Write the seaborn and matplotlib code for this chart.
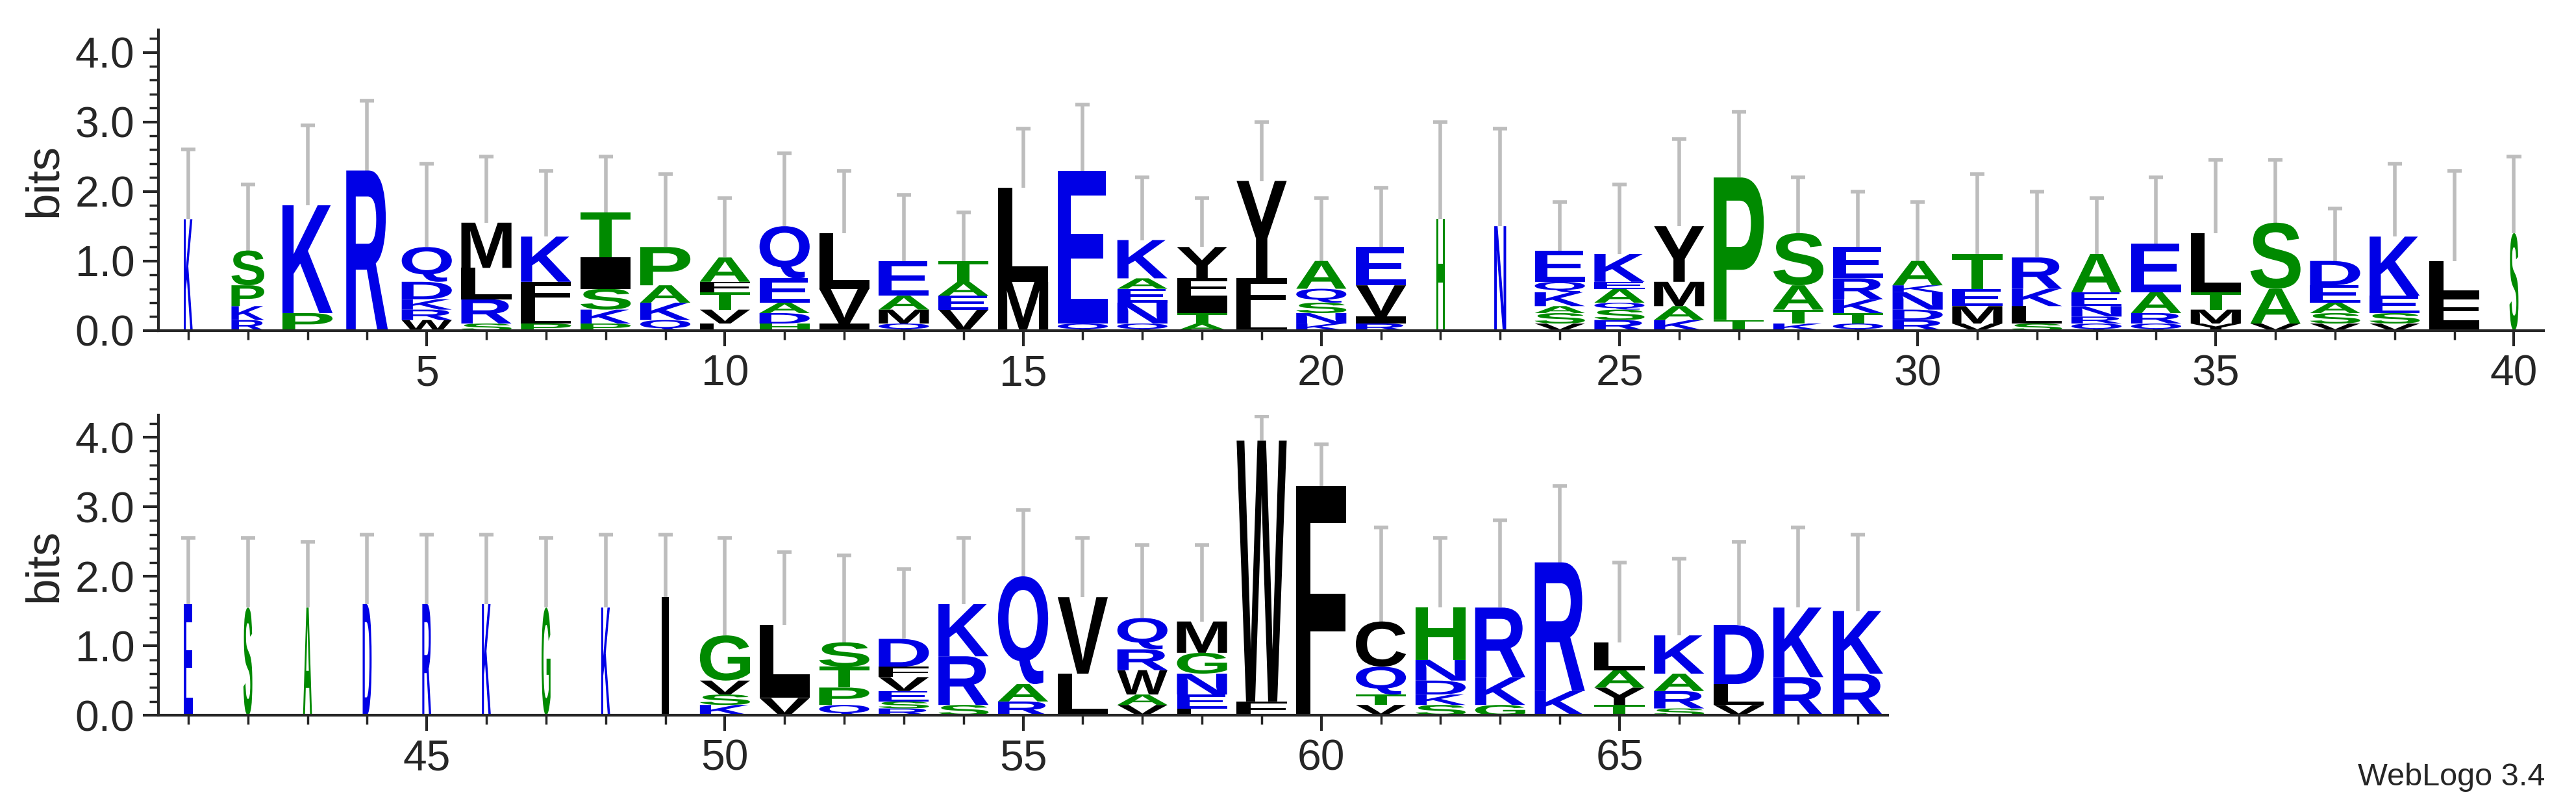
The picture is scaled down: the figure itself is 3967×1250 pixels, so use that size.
import matplotlib
matplotlib.use("Agg")
import matplotlib.pyplot as plt
import seaborn as sns
from matplotlib.textpath import TextPath
from matplotlib.patches import PathPatch
from matplotlib.font_manager import FontProperties
from matplotlib.transforms import Affine2D

# per-position stacks, bottom -> top: (letter, bits)
stacks = {
1:[("K",1.6)],2:[("R",0.15),("K",0.2),("P",0.3),("S",0.5)],3:[("P",0.25),("K",1.55)],
4:[("R",2.3)],5:[("W",0.15),("R",0.15),("K",0.15),("D",0.25),("Q",0.5)],
6:[("S",0.1),("R",0.35),("L",0.45),("M",0.65)],7:[("P",0.1),("L",0.25),("F",0.35),("K",0.65)],
8:[("P",0.1),("K",0.2),("S",0.3),("I",0.45),("T",0.65)],9:[("Q",0.15),("K",0.25),("A",0.25),("P",0.55)],
10:[("L",0.1),("V",0.2),("T",0.25),("F",0.15),("A",0.35)],11:[("H",0.1),("D",0.15),("A",0.15),("E",0.35),("Q",0.75)],
12:[("I",0.1),("V",0.5),("L",0.8)],13:[("Q",0.1),("M",0.2),("A",0.2),("E",0.5)],
14:[("V",0.3),("E",0.2),("A",0.2),("T",0.3)],15:[("M",0.7),("L",1.35)],16:[("Q",0.1),("E",2.2)],
17:[("Q",0.1),("N",0.3),("E",0.2),("A",0.15),("K",0.55)],18:[("A",0.1),("T",0.15),("I",0.25),("F",0.25),("Y",0.45)],
19:[("L",0.25),("F",0.5),("Y",1.4)],20:[("K",0.1),("N",0.15),("S",0.15),("Q",0.2),("A",0.4)],
21:[("R",0.1),("I",0.1),("V",0.45),("E",0.55)],22:[("H",1.6)],23:[("N",1.5)],
24:[("V",0.1),("S",0.15),("A",0.1),("K",0.2),("Q",0.15),("E",0.45)],25:[("R",0.15),("S",0.15),("Q",0.1),("A",0.2),("E",0.1),("K",0.4)],
26:[("K",0.15),("A",0.2),("M",0.35),("Y",0.8)],27:[("T",0.15),("P",2.05)],
28:[("K",0.1),("T",0.2),("A",0.35),("S",0.75)],29:[("Q",0.1),("T",0.15),("K",0.2),("R",0.3),("E",0.45)],
30:[("R",0.15),("D",0.15),("N",0.25),("K",0.1),("A",0.35)],31:[("V",0.1),("M",0.25),("E",0.25),("T",0.5)],
32:[("S",0.1),("L",0.25),("K",0.25),("R",0.45)],33:[("Q",0.1),("R",0.1),("N",0.15),("E",0.2),("A",0.55)],
34:[("Q",0.1),("R",0.15),("A",0.3),("E",0.7)],35:[("Y",0.1),("M",0.2),("T",0.25),("L",0.85)],
36:[("V",0.1),("A",0.5),("S",0.95)],37:[("V",0.1),("S",0.15),("A",0.15),("E",0.25),("D",0.35)],
38:[("V",0.1),("S",0.15),("E",0.25),("K",0.85)],39:[("I",0.15),("F",0.35),("L",0.5)],40:[("S",1.4)],
41:[("E",1.6)],42:[("S",1.55)],43:[("A",1.55)],44:[("D",1.6)],45:[("R",1.6)],46:[("K",1.6)],
47:[("G",1.55)],48:[("K",1.55)],49:[("I",1.7)],
50:[("K",0.15),("S",0.15),("V",0.2),("G",0.65)],51:[("V",0.25),("I",0.2),("L",0.85)],
52:[("Q",0.15),("P",0.25),("T",0.3),("S",0.35)],53:[("R",0.1),("S",0.1),("E",0.15),("V",0.2),("F",0.15),("D",0.4)],
54:[("S",0.15),("R",0.7),("K",0.75)],55:[("R",0.2),("A",0.25),("Q",1.55)],56:[("L",0.6),("V",1.1)],
57:[("V",0.15),("A",0.15),("W",0.35),("R",0.3),("Q",0.45)],58:[("L",0.1),("E",0.2),("N",0.3),("G",0.3),("M",0.45)],
59:[("F",0.2),("W",3.75)],60:[("F",3.3)],61:[("V",0.15),("T",0.15),("Q",0.4),("C",0.65)],
62:[("S",0.15),("K",0.15),("D",0.2),("N",0.3),("H",0.75)],63:[("G",0.15),("K",0.4),("R",1.0)],
64:[("K",0.35),("R",1.85)],65:[("T",0.15),("Y",0.25),("A",0.25),("L",0.4)],
66:[("S",0.1),("R",0.25),("A",0.25),("K",0.55)],67:[("V",0.15),("L",0.3),("D",0.85)],
68:[("R",0.55),("K",1.0)],69:[("R",0.6),("K",0.9)],
}
error_top = [2.6,2.1,2.95,3.3,2.4,2.5,2.3,2.5,2.25,1.9,2.55,2.3,1.95,1.7,2.9,3.25,2.2,1.9,3.0,1.9,
             2.05,3.0,2.9,1.85,2.1,2.75,3.15,2.2,2.0,1.85,2.25,2.0,1.9,2.2,2.45,2.45,1.75,2.4,2.3,2.5,
             2.55,2.55,2.5,2.6,2.6,2.6,2.55,2.6,2.6,2.55,2.35,2.3,2.1,2.55,2.95,2.55,2.45,2.45,4.3,3.9,
             2.7,2.55,2.8,3.3,2.2,2.25,2.5,2.7,2.6]
widths = {1:0.15,2:0.55,4:0.7,22:0.15,23:0.2,40:0.15,41:0.15,42:0.15,43:0.15,44:0.15,45:0.15,
          46:0.15,47:0.15,48:0.15,49:0.12}

colors = {}
for c in "KREQDN": colors[c] = "#0000e6"
for c in "STPAGH": colors[c] = "#008a00"
for c in "MLWYFVIC": colors[c] = "#000000"

sns.set_style("ticks")
plt.rcParams['font.family'] = ['Liberation Sans', 'DejaVu Sans']
fp = FontProperties(family="Liberation Sans", weight="bold")
glyph = {}
def get_path(ch):
    if ch not in glyph:
        glyph[ch] = TextPath((0, 0), ch, size=1, prop=fp)
    return glyph[ch]

def draw_letter(ax, ch, x, y, w, h):
    p = get_path(ch)
    ext = p.get_extents()
    t = (Affine2D().translate(-ext.x0, -ext.y0)
         .scale(w / ext.width, h / ext.height).translate(x - w / 2, y))
    ax.add_patch(PathPatch(t.transform_path(p), facecolor=colors[ch], edgecolor="none", lw=0))

fig = plt.figure(figsize=(3967/250, 1250/250), dpi=250)
rows = [(range(1, 41), [0.0615, 0.593, 0.926, 0.37], (0.5, 40.5), [5,10,15,20,25,30,35,40]),
        (range(41, 70), [0.0615, 0.119, 0.926*29/40, 0.37], (40.5, 69.5), [45,50,55,60,65])]
for pos_range, rect, xl, ticks in rows:
    ax = fig.add_axes(rect)
    for pos in pos_range:
        w = widths.get(pos, 0.84)
        y = 0.0
        for ch, h in stacks[pos]:
            draw_letter(ax, ch, pos, y, w, h)
            y += h
        e = error_top[pos - 1]
        ax.vlines(pos, y, e, color="#bdbdbd", lw=1.6, zorder=0)
        ax.hlines(e, pos - 0.12, pos + 0.12, color="#bdbdbd", lw=1.6, zorder=0)
    ax.set_xlim(*xl)
    ax.set_ylim(0, 4.32)
    ax.set_xticks(ticks)
    ax.set_xticks(list(pos_range), minor=True)
    ax.set_yticks([0, 1, 2, 3, 4])
    ax.set_yticklabels(["0.0", "1.0", "2.0", "3.0", "4.0"])
    ax.set_yticks([i * 0.2 for i in range(22)], minor=True)
    ax.tick_params(labelsize=19, length=7, width=1.2, direction="out")
    ax.tick_params(which="minor", length=4, width=1)
    ax.set_ylabel("bits", fontsize=21)
    sns.despine(ax=ax)
    for s in ["left", "bottom"]:
        ax.spines[s].set_linewidth(1.2)
fig.text(0.988, 0.025, "WebLogo 3.4", ha="right", va="bottom", fontsize=14)
fig.savefig("out.png", dpi=250)
